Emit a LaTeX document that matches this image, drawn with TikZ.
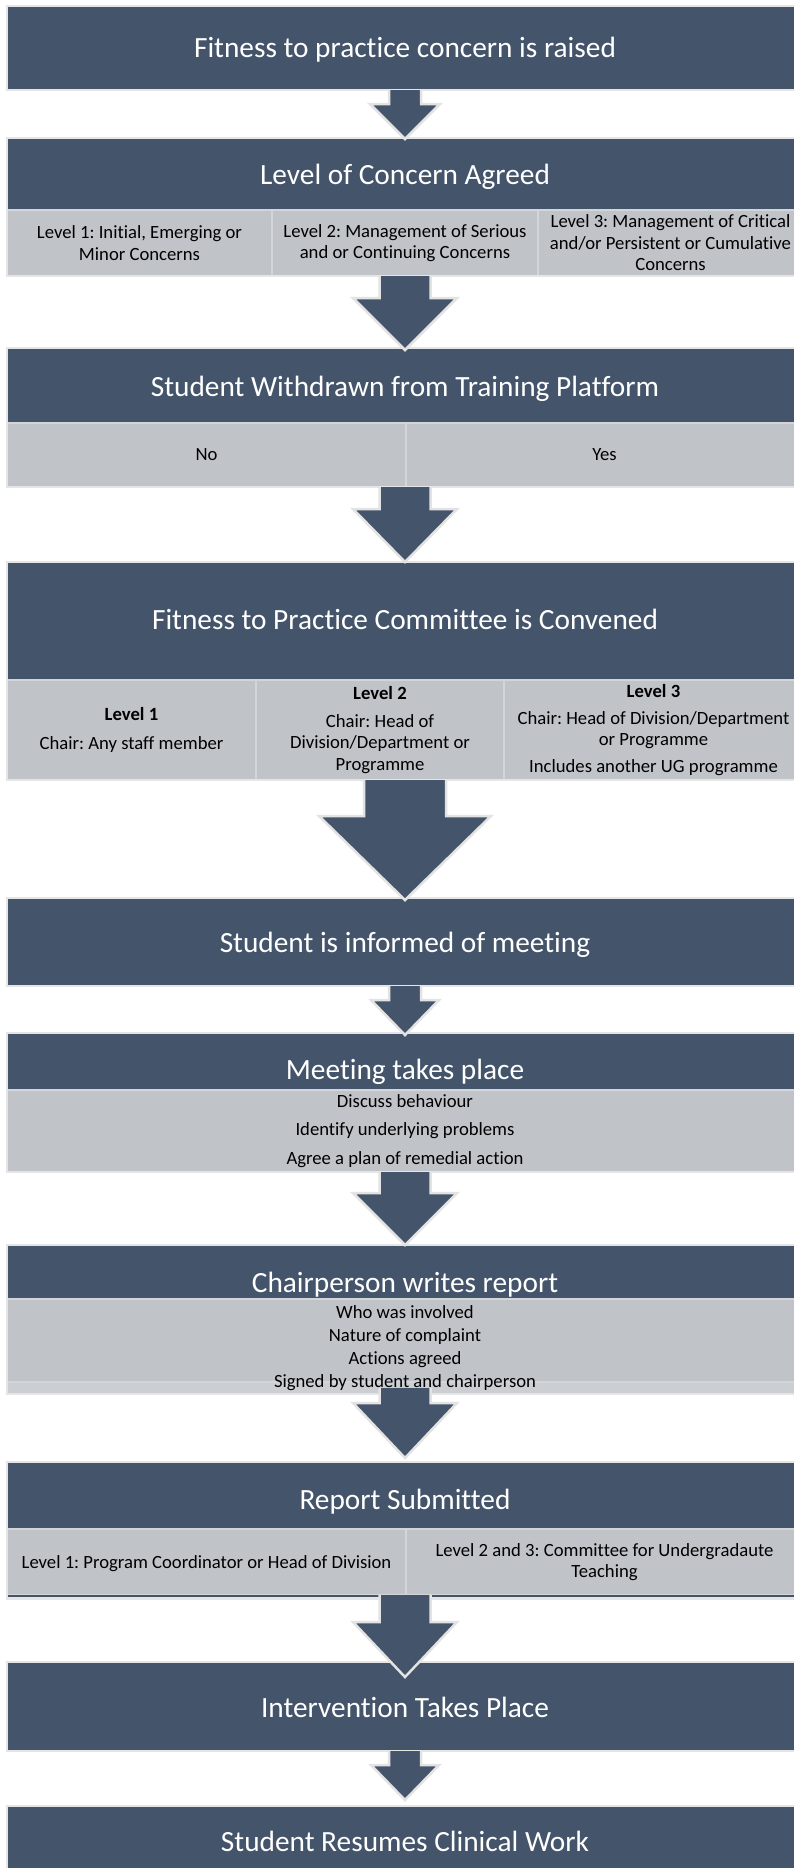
\documentclass[tikz,border=0pt]{standalone}
\usepackage{fontspec}
\setmainfont{Carlito}[Ligatures={NoCommon}]
\frenchspacing
\usetikzlibrary{calc}
\definecolor{dk}{HTML}{44546A}
\definecolor{gy}{HTML}{C0C3C8}
\definecolor{gyl}{HTML}{CBCED2}
\definecolor{divc}{HTML}{D3D5D9}
\definecolor{frm}{HTML}{E5E5E5}
\definecolor{arrl}{HTML}{E3E3E3}
\tikzset{
  darkbox/.style={rectangle, fill=dk, draw=none, minimum width=796pt, anchor=north west, inner sep=0pt, outer sep=0pt},
  greycell/.style={rectangle, fill=gy, draw=divc, line width=1.5pt, anchor=north west, inner sep=0pt, outer sep=0pt},
  frame/.style={draw=frm, line width=2.5pt},
  title/.style={text=white, font=\fontsize{29.33pt}{35pt}\selectfont, text height=0.7em, text depth=0.22em, inner sep=0pt},
  body/.style={text=black, font=\fontsize{18.67pt}{21.5pt}\selectfont, align=center, inner sep=0pt},
  blockarrow/.style={fill=dk, draw=arrl, line width=2.5pt, line join=miter}
}
% #1 from node, #2 to node, #3 stem half width, #4 head half width, #5 head length, #6 tip offset (down), #7 start offset (down)
\newcommand\blockarr[7]{%
  \path[blockarrow] let \p1=(#1.south), \p2=(#2.north) in
   ({\x2-#3pt},{\y1-(#7pt)}) -- ({\x2-#3pt},{\y2-(#6pt)+#5pt}) -- ({\x2-#4pt},{\y2-(#6pt)+#5pt})
   -- ({\x2},{\y2-(#6pt)}) -- ({\x2+#4pt},{\y2-(#6pt)+#5pt}) -- ({\x2+#3pt},{\y2-(#6pt)+#5pt})
   -- ({\x2+#3pt},{\y1-(#7pt)});
}
\begin{document}
\begin{tikzpicture}[x=1pt,y=-1pt]
\useasboundingbox (0,0) rectangle (794,1868);
\clip (0,0) rectangle (794,1868);

% ---------- boxes ----------
% 1
\node[darkbox, minimum height=84pt] (b1) at (7,6) {};
\draw[frame] (b1.north west) rectangle (b1.south east);
% 2
\node[darkbox, minimum height=72pt] (b2) at (7,138) {};
\node[greycell, minimum width=265pt, minimum height=66pt] (c21) at (7,210) {};
\node[greycell, minimum width=266pt, minimum height=66pt] (c22) at (272,210) {};
\node[greycell, minimum width=265pt, minimum height=66pt] (c23) at (538,210) {};
\draw[frame] (b2.north west) rectangle (c23.south east);
% 3
\node[darkbox, minimum height=75pt] (b3) at (7,348) {};
\node[greycell, minimum width=399pt, minimum height=64pt] (c31) at (7,423) {};
\node[greycell, minimum width=397pt, minimum height=64pt] (c32) at (406,423) {};
\draw[frame] (b3.north west) rectangle (c32.south east);
% 4
\node[darkbox, minimum height=118pt] (b4) at (7,562) {};
\node[greycell, minimum width=249pt, minimum height=100pt] (c41) at (7,680) {};
\node[greycell, minimum width=248pt, minimum height=100pt] (c42) at (256,680) {};
\node[greycell, minimum width=299pt, minimum height=100pt] (c43) at (504,680) {};
\draw[frame] (b4.north west) rectangle (c43.south east);
% 5
\node[darkbox, minimum height=88pt] (b5) at (7,898) {};
\draw[frame] (b5.north west) rectangle (b5.south east);
% 6
\node[darkbox, minimum height=57pt] (b6) at (7,1033) {};
\node[greycell, minimum width=796pt, minimum height=82pt] (c6) at (7,1090) {};
\draw[frame] (b6.north west) rectangle (c6.south east);
% 7
\node[darkbox, minimum height=54pt] (b7) at (7,1245) {};
\fill[gyl] (7,1382) rectangle (803,1394);
\node[greycell, minimum width=796pt, minimum height=83pt] (c7) at (7,1299) {};
\draw[frame] (b7.north west) rectangle (803,1394);
% 8
\node[darkbox, minimum height=67pt] (b8) at (7,1462) {};
\node[greycell, minimum width=399pt, minimum height=66pt] (c81) at (7,1529) {};
\node[greycell, minimum width=397pt, minimum height=66pt] (c82) at (406,1529) {};
\fill[dk] (c81.south west) rectangle ($(c82.south east)+(0,3.5)$);
\draw[frame] (b8.north west) rectangle ($(c82.south east)+(0,3.5)$);
% 9
\node[darkbox, minimum height=89pt] (b9) at (7,1662) {};
\draw[frame] (b9.north west) rectangle (b9.south east);
% 10
\node[darkbox, minimum height=80pt] (b10) at (7,1806) {};
\draw[frame] (b10.north west) rectangle (b10.south east);

% ---------- arrows ----------
\blockarr{b1}{b2}{16}{35}{35}{1}{0}
\blockarr{c22}{b3}{25.5}{52}{52}{2}{0}
\blockarr{c31}{b4}{25.5}{52}{53}{0}{0}
\blockarr{c42}{b5}{41}{86}{84}{2}{0}
\blockarr{b5}{b6}{16}{34}{35}{2}{0}
\blockarr{c6}{b7}{25.5}{52}{52}{0}{0}
\blockarr{c7}{b8}{25.5}{52}{55}{-4}{6}
\blockarr{c81}{b9}{25.5}{52}{55}{15}{0}
\blockarr{b9}{b10}{16}{34}{35}{-6}{0}

% ---------- texts ----------
\node[title] (t1) at (405,55) {Fitness to practice concern is raised};
\node[title] (t2) at (405,182) {Level of Concern Agreed};
\node[body] (x21) at (c21) {Level 1: Initial, Emerging or\\Minor Concerns};
\node[body] (x22) at (c22) {Level 2: Management of Serious\\and or Continuing Concerns};
\node[body] (x23) at (c23) {Level 3: Management of Critical\\and/or Persistent or Cumulative\\Concerns};
\node[title] (t3) at (405,394) {Student Withdrawn from Training Platform};
\node[body] (x31) at (c31) {No};
\node[body] (x32) at (c32) {Yes};
\node[title] (t4) at (405,627) {Fitness to Practice Committee is Convened};
\node[body] (x41) at (c41) {\textbf{Level 1}\\[7pt]Chair: Any staff member};
\node[body] (x42) at (c42) {\textbf{Level 2}\\[6pt]Chair: Head of\\Division/Department or\\Programme};
\node[body] (x43) at (c43) {\textbf{Level 3}\\[5pt]Chair: Head of Division/Department\\or Programme\\[5pt]Includes another UG programme};
\node[title] (t5) at (405,950) {Student is informed of meeting};
\node[title] (t6) at (405,1077) {Meeting takes place};
\node[body] (x6) at (c6) {Discuss behaviour\\[7pt]Identify underlying problems\\[7pt]Agree a plan of remedial action};
\node[title] (t7) at (405,1290) {Chairperson writes report};
\node[body] (x7) at ($(c7.center)+(0,8)$) {Who was involved\\[1.5pt]Nature of complaint\\[1.5pt]Actions agreed\\[1.5pt]Signed by student and chairperson};
\node[title] (t8) at (405,1507) {Report Submitted};
\node[body] (x81) at ($(c81.center)+(0,2)$) {Level 1: Program Coordinator or Head of Division};
\node[body] (x82) at (c82) {Level 2 and 3: Committee for Undergradaute\\Teaching};
\node[title] (t9) at (405,1715) {Intervention Takes Place};
\node[title] (t10) at (405,1849) {Student Resumes Clinical Work};
\end{tikzpicture}
\end{document}
